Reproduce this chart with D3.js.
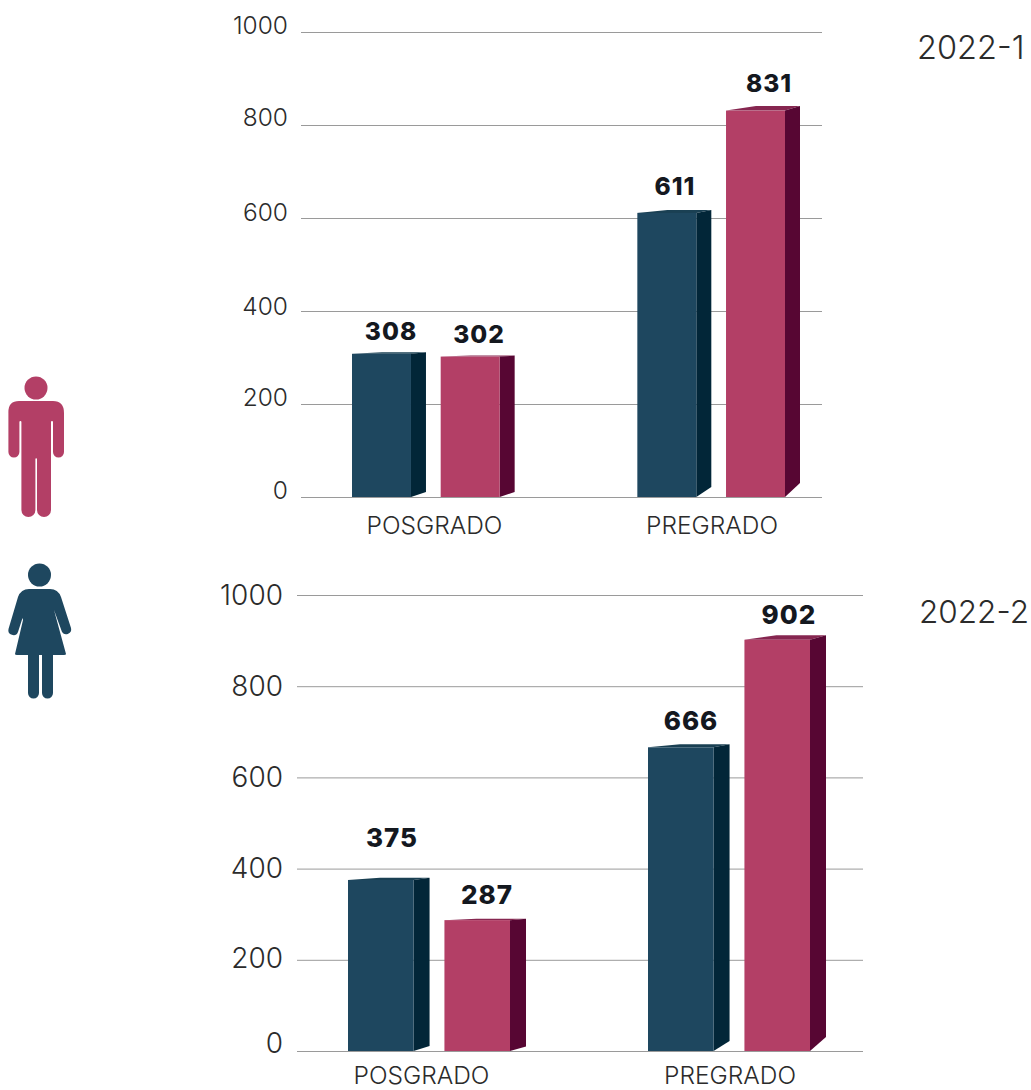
<!DOCTYPE html>
<html><head><meta charset="utf-8">
<script src="https://cdnjs.cloudflare.com/ajax/libs/d3/7.8.5/d3.min.js"></script>
<style>
html,body{margin:0;padding:0;background:#fff}
svg{display:block}
text{font-family:Inter,Lato,sans-serif}
.tick text,.cat,.per{font-weight:300;fill:#2b2b2b}
.val{font-weight:800;fill:#14181f;letter-spacing:1px}
</style></head><body>
<svg id="c" width="1031" height="1090"></svg>
<script>
const categories = ["POSGRADO", "PREGRADO"];
const series = ["Hombres", "Mujeres"];
const periods = ["2022-1", "2022-2"];
const tickValues = [0, 200, 400, 600, 800, 1000];
const values2022_1 = [[308, 302], [611, 831]];
const values2022_2 = [[375, 287], [666, 902]];

const frontColors = ["#1e475f", "#b33f66"];
const sideColors = ["#022638", "#570633"];
const topColors = ["#1a4053", "#862650"];

const panels = [
  {values: values2022_1, period: periods[0], y0: 497, y1: 32, gridX: [301, 822], band: [352, 785], padO: .4825, padI: .335,
   depth: 15, lift: [1.5, 1, 3, 4.5], sideRise: [5, 5, 10, 14], nudge: [14, 14, 18, 19], font: 24.5, tickX: 288, tickDy: [-7, -7, -5, -6, -8, -7],
   catY: 534, catX: [434.5, 712], catFont: 24.5, perX: 917, perY: 59, perFont: 32.5, valX: [391, 479, 675, 769], valFont: 24.5},
  {values: values2022_2, period: periods[1], y0: 1051, y1: 595, gridX: [297, 863], band: [348, 810], padO: .46, padI: .32,
   depth: 16, lift: [2.3, 1.3, 3, 4.5], sideRise: [5, 4.5, 10, 14], nudge: [33, 16, 17, 16], font: 28, tickX: 283, tickDy: [-9, -2, -1, -1, -1, -1],
   catY: 1084, catX: [421.5, 730], catFont: 24.5, perX: 919, perY: 623, perFont: 31.5, valX: [392, 487, 691, 789], valFont: 26}
];

const svg = d3.select("#c");
panels.forEach(p => {
  const g = svg.append("g");
  const y = d3.scaleLinear().domain([0, 1000]).range([p.y0, p.y1]);
  const x = d3.scaleBand().domain(categories).range(p.band).paddingInner(p.padO);
  const x2 = d3.scaleBand().domain(series).range([0, x.bandwidth()]).paddingInner(p.padI);

  const axis = d3.axisLeft(y).tickValues(tickValues).tickFormat(d3.format("d"))
    .tickSize(-(p.gridX[1] - p.gridX[0])).tickPadding(0);
  const ax = g.append("g").attr("transform", `translate(${p.gridX[0]},0)`).call(axis);
  ax.select(".domain").remove();
  ax.selectAll(".tick line").attr("stroke", "#9a9a9a").attr("stroke-width", 1);
  ax.selectAll(".tick text")
    .attr("x", p.tickX - p.gridX[0])
    .attr("dy", (d, i) => p.tickDy[i] + p.font * .36)
    .style("font-size", p.font + "px");

  let idx = 0;
  categories.forEach((c, ci) => series.forEach((s, si) => {
    const v = p.values[ci][si], i = idx++;
    const left = x(c) + x2(s), w = x2.bandwidth(), top = y(v), base = y(0);
    const d = p.depth, l = p.lift[i];
    g.append("path").attr("fill", topColors[si])
      .attr("d", `M${left},${top}L${left + 2 * d},${top - l}L${left + w + d},${top - l}L${left + w},${top}Z`);
    g.append("path").attr("fill", sideColors[si])
      .attr("d", `M${left + w},${top}L${left + w + d},${top - l}L${left + w + d},${base - p.sideRise[i]}L${left + w},${base}Z`);
    g.append("rect").attr("fill", frontColors[si]).attr("x", left).attr("y", top).attr("width", w).attr("height", base - top);
    g.append("text").attr("class", "val").attr("text-anchor", "middle")
      .attr("x", p.valX[i]).attr("y", top - p.nudge[i])
      .style("font-size", p.valFont + "px").text(v);
  }));

  categories.forEach((c, ci) => {
    g.append("text").attr("class", "cat").attr("text-anchor", "middle")
      .attr("x", p.catX[ci]).attr("y", p.catY).style("font-size", p.catFont + "px").text(c);
  });
  g.append("text").attr("class", "per").attr("x", p.perX).attr("y", p.perY)
    .style("font-size", p.perFont + "px").text(p.period);
});

// pictograms
const man = svg.append("g").attr("fill", frontColors[1]);
man.append("circle").attr("cx", 36).attr("cy", 388).attr("r", 11.5);
man.append("path").attr("d",
 "M19,401H53Q64,401 64,413V452a5.5,5.5 0 0 1-11,0V422a1,1 0 0 0-2,0V510a7,7 0 0 1-14,0V459a.8,.8 0 0 0-1.6,0V510a7,7 0 0 1-14,0V422a1,1 0 0 0-2,0V452a5.5,5.5 0 0 1-11,0V413Q8,401 19,401Z");
const woman = svg.append("g").attr("fill", frontColors[0]);
woman.append("circle").attr("cx", 39.5).attr("cy", 575).attr("r", 11.5);
woman.append("path").attr("d",
 "M29,589H50Q58,589 61,597L71,628a5,5 0 0 1-9,4L54,610L66,654Q66,655 64,655H53V693a5.5,5.5 0 0 1-11,0V655H39V693a5.5,5.5 0 0 1-11,0V655H17Q15,655 15,654L23,620L22.5,618L18,632a5,5 0 0 1-9.5,-3L18,597Q21,589 29,589Z");
</script>
</body></html>
